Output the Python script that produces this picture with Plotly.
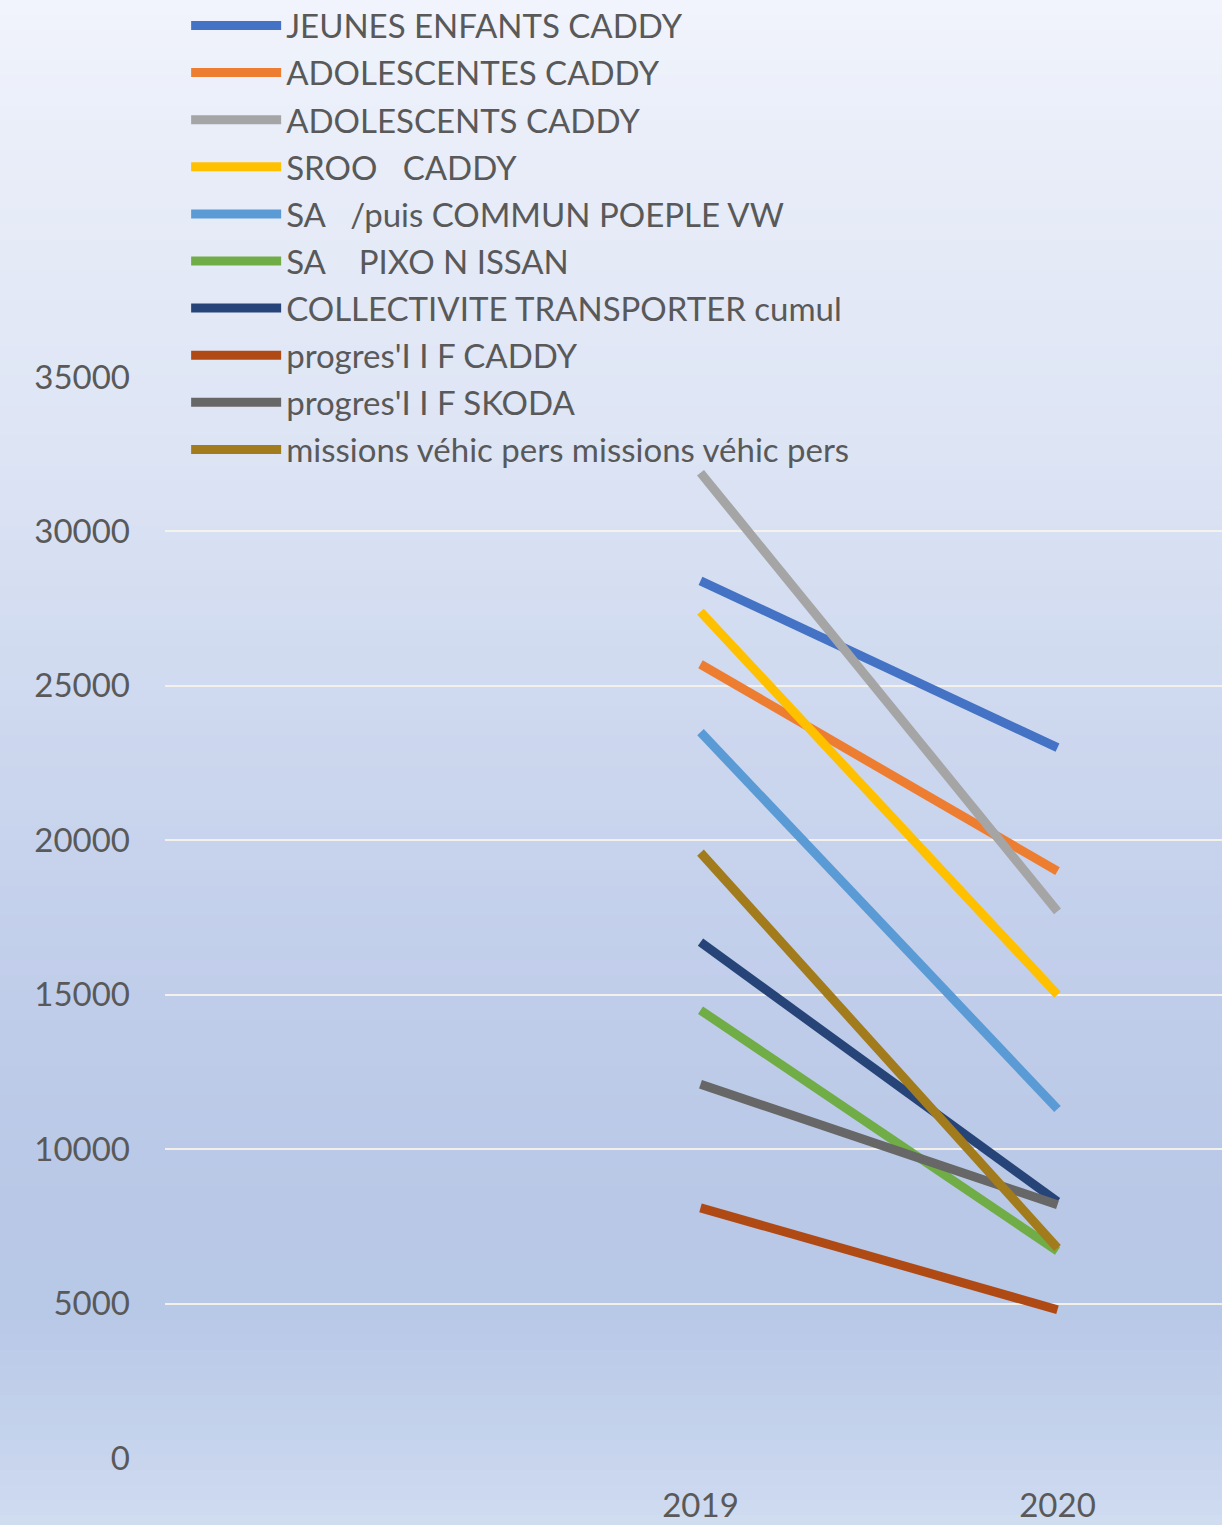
import plotly.graph_objects as go

# Yearly totals per vehicle / service
years = [2019, 2020]
series_names = [
    "JEUNES ENFANTS CADDY",
    "ADOLESCENTES CADDY",
    "ADOLESCENTS CADDY",
    "SROO\u00a0\u00a0\u00a0CADDY",
    "SA\u00a0\u00a0\u00a0/puis COMMUN POEPLE VW",
    "SA\u00a0\u00a0\u00a0\u00a0PIXO N ISSAN",
    "COLLECTIVITE TRANSPORTER cumul",
    "progres'I I F CADDY",
    "progres'I I F SKODA",
    "missions véhic pers missions véhic pers",
]
jeunes_enfants = [28400, 23000]
adolescentes = [25700, 19000]
adolescents = [31900, 17700]
sroo = [27400, 15000]
sa_commun = [23500, 11300]
sa_pixo = [14500, 6700]
collectivite = [16700, 8300]
progres_caddy = [8100, 4800]
progres_skoda = [12100, 8200]
missions = [19600, 6800]

series_values = [jeunes_enfants, adolescentes, adolescents, sroo, sa_commun,
                 sa_pixo, collectivite, progres_caddy, progres_skoda, missions]
colors = ["#4472C4", "#ED7D31", "#A5A5A5", "#FFC000", "#5B9BD5",
          "#70AD47", "#264478", "#B04A14", "#676767", "#A27B1C"]

y_ticks = [0, 5000, 10000, 15000, 20000, 25000, 30000, 35000]

W, H = 1222, 1525
M_L, M_R, M_T, M_B = 165, 0, 377, 67
plot_h = H - M_T - M_B

fig = go.Figure()
for i, (name, vals, col) in enumerate(zip(series_names, series_values, colors)):
    fig.add_trace(go.Scatter(x=years, y=vals, name=name, mode="lines",
                             legendgroup=f"g{i}",
                             line=dict(color=col, width=9)))

# vertical background gradient built from thin strips
stops = [(0, (241, 244, 252)), (130, (234, 238, 249)), (450, (221, 228, 244)),
         (730, (205, 216, 239)), (1000, (192, 205, 234)), (1200, (184, 200, 230)),
         (1320, (184, 200, 231)), (1500, (204, 217, 239)), (1525, (208, 220, 240))]


def color_at(py):
    for (p0, c0), (p1, c1) in zip(stops[:-1], stops[1:]):
        if p0 <= py <= p1:
            t = (py - p0) / (p1 - p0)
            return tuple(round(a + (b - a) * t) for a, b in zip(c0, c1))
    return stops[-1][1]


def to_paper(py):
    return (H - M_B - py) / plot_h


shapes = []
step = 15
for py in range(0, H, step):
    r, g, b = color_at(py + step / 2)
    shapes.append(dict(type="rect", xref="paper", yref="paper",
                       x0=-M_L / (W - M_L - M_R), x1=1.0,
                       y0=to_paper(min(py + step + 1, H)), y1=to_paper(py),
                       fillcolor=f"rgb({r},{g},{b})", line=dict(width=0),
                       layer="below"))

font_family = "Lato, 'Open Sans', sans-serif"
fig.update_layout(
    width=W, height=H,
    margin=dict(l=M_L, r=M_R, t=M_T, b=M_B, autoexpand=False),
    paper_bgcolor="rgb(220,228,244)",
    plot_bgcolor="rgba(0,0,0,0)",
    shapes=shapes,
    font=dict(family=font_family, size=33, color="#595959"),
    showlegend=True,
    legend=dict(x=0.02, y=1.351, xanchor="left", yanchor="top",
                bgcolor="rgba(0,0,0,0)", itemwidth=90,
                font=dict(family=font_family, size=33, color="#595959"),
                traceorder="grouped", tracegroupgap=1.2),
    xaxis=dict(range=[2017.5, 2017.5 + (W - M_L - M_R) / 357],
               tickvals=years, ticktext=[str(y) for y in years],
               showgrid=False, zeroline=False, showline=False,
               ticks="", ticklabelstandoff=25, automargin=False),
    yaxis=dict(range=[0, 35000], tickvals=y_ticks,
               ticktext=[str(v) for v in y_ticks],
               showgrid=True, gridcolor="rgba(246,242,234,0.95)", gridwidth=2,
               zeroline=False, showline=False, ticks="",
               ticklabelstandoff=34, automargin=False),
)

fig.write_html("out.html")
